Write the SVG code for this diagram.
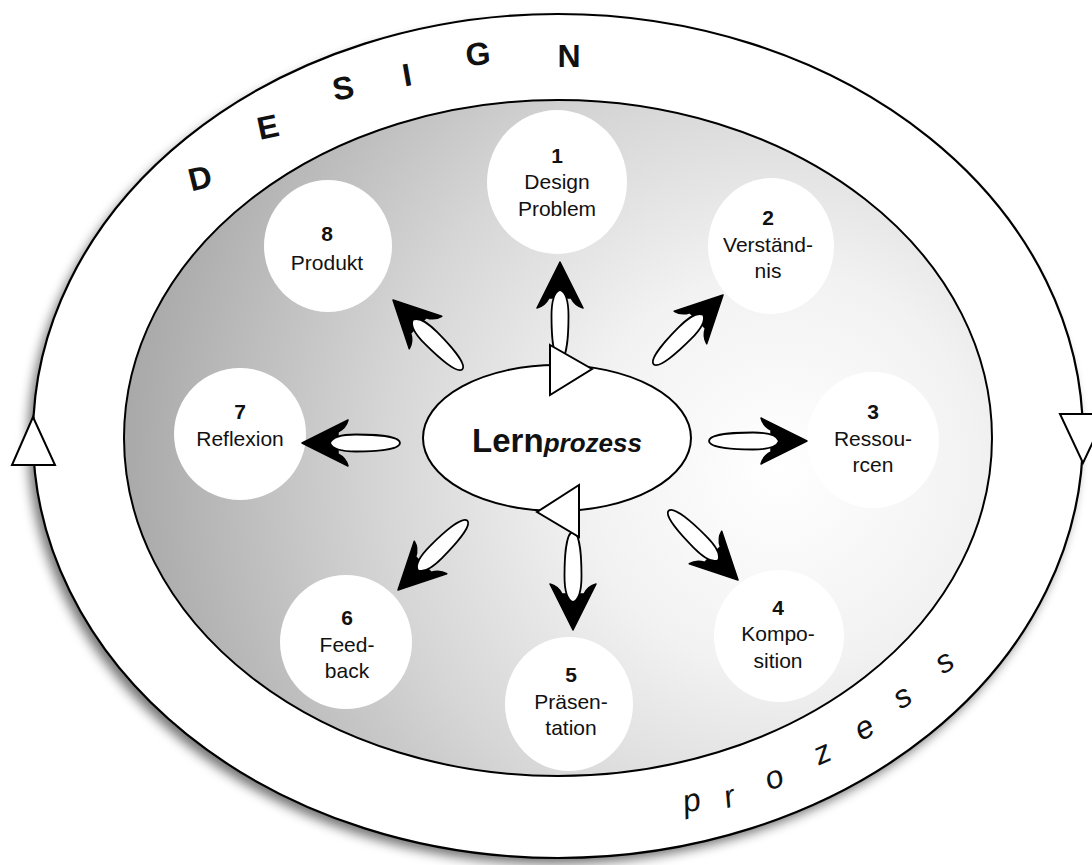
<svg xmlns="http://www.w3.org/2000/svg" width="1092" height="865" viewBox="0 0 1092 865">
<style>
  .ring { fill:#fff; stroke:#000; stroke-width:2.2; }
  .node { fill:#fff; }
  .lbl { font-family:"Liberation Sans", Arial, sans-serif; font-size:21px; fill:#111; text-anchor:middle; }
  .num { font-weight:bold; }
  .big { font-family:"Liberation Sans", Arial, sans-serif; font-size:32px; font-weight:bold; fill:#111; text-anchor:middle; }
  .ital { font-family:"Liberation Sans", Arial, sans-serif; font-size:32px; font-style:italic; fill:#111; text-anchor:middle; }
  .tri { fill:#fff; stroke:#000; stroke-width:2; stroke-linejoin:miter; }
  .shaft { fill:#fff; stroke:#000; stroke-width:1.8; }
  .head { fill:#000; stroke:#000; stroke-width:1.5; stroke-linejoin:round; }
</style>
<defs>
  <radialGradient id="bg" gradientUnits="userSpaceOnUse" cx="780" cy="470" r="660">
    <stop offset="0" stop-color="#ffffff"/>
    <stop offset="0.3" stop-color="#f2f2f2"/>
    <stop offset="0.6" stop-color="#d6d6d6"/>
    <stop offset="1" stop-color="#a8a8a8"/>
  </radialGradient>
  <filter id="blur" x="-10%" y="-10%" width="120%" height="120%">
    <feGaussianBlur stdDeviation="6"/>
  </filter>
  <g id="arrow">
    <path class="head" d="M0,0 L-46,-23 Q-44,-15 -36,-11 L-36,11 Q-44,15 -46,23 Z"/>
    <path class="shaft" d="M-98,0 C-98,-7 -72,-8.5 -54,-8.5 C-40,-8.5 -30,-6 -28,0 C-30,6 -40,8.5 -54,8.5 C-72,8.5 -98,7 -98,0 Z"/>
  </g>
</defs>

<g id="outer-ring">
  <ellipse cx="553" cy="443" rx="525" ry="421" fill="#000" opacity="0.55" filter="url(#blur)"/>
  <ellipse class="ring" cx="558" cy="436" rx="525" ry="422"/>
  <polygon class="tri" points="33,417 55,465 12,465"/>
  <polygon class="tri" points="1060,414 1106,414 1083,463"/>
</g>

<g id="design-text">
  <text class="big" x="200" y="189" transform="rotate(-14 200 178)">D</text>
  <text class="big" x="268" y="138" transform="rotate(-12 268 127)">E</text>
  <text class="big" x="343" y="99" transform="rotate(-10 343 88)">S</text>
  <text class="big" x="407" y="86" transform="rotate(-10 407 75)">I</text>
  <text class="big" x="478" y="65" transform="rotate(-5 478 54)">G</text>
  <text class="big" x="569" y="67">N</text>
</g>

<g id="prozess-text">
  <text class="ital" x="692" y="811" transform="rotate(-12 692 803)">p</text>
  <text class="ital" x="730" y="807" transform="rotate(-16 730 799)">r</text>
  <text class="ital" x="775" y="788" transform="rotate(-20 775 780)">o</text>
  <text class="ital" x="823" y="763" transform="rotate(-24 823 755)">z</text>
  <text class="ital" x="865" y="738" transform="rotate(-28 865 729)">e</text>
  <text class="ital" x="903" y="707" transform="rotate(-30 903 698)">s</text>
  <text class="ital" x="945" y="672" transform="rotate(-32 945 663)">s</text>
</g>

<g id="inner-area">
  <ellipse cx="558" cy="438" rx="434" ry="338" fill="url(#bg)" stroke="#000" stroke-width="2"/>
</g>

<g id="n1"><ellipse class="node" cx="557" cy="182" rx="70" ry="72"/>
  <text class="lbl num" x="557" y="163">1</text>
  <text class="lbl" x="557" y="189">Design</text>
  <text class="lbl" x="557" y="216">Problem</text></g>
<g id="n2"><ellipse class="node" cx="771" cy="246" rx="63" ry="68"/>
  <text class="lbl num" x="768" y="225">2</text>
  <text class="lbl" x="768" y="252">Verständ-</text>
  <text class="lbl" x="768" y="278">nis</text></g>
<g id="n3"><ellipse class="node" cx="873" cy="440" rx="66" ry="68"/>
  <text class="lbl num" x="873" y="419">3</text>
  <text class="lbl" x="873" y="446">Ressou-</text>
  <text class="lbl" x="873" y="472">rcen</text></g>
<g id="n4"><ellipse class="node" cx="779" cy="636" rx="65" ry="66"/>
  <text class="lbl num" x="778" y="615">4</text>
  <text class="lbl" x="778" y="641">Kompo-</text>
  <text class="lbl" x="778" y="668">sition</text></g>
<g id="n5"><ellipse class="node" cx="569" cy="704" rx="64" ry="67"/>
  <text class="lbl num" x="571" y="682">5</text>
  <text class="lbl" x="571" y="709">Präsen-</text>
  <text class="lbl" x="571" y="735">tation</text></g>
<g id="n6"><ellipse class="node" cx="346" cy="642" rx="66" ry="67"/>
  <text class="lbl num" x="347" y="625">6</text>
  <text class="lbl" x="347" y="652">Feed-</text>
  <text class="lbl" x="347" y="678">back</text></g>
<g id="n7"><ellipse class="node" cx="240" cy="434" rx="66" ry="66"/>
  <text class="lbl num" x="240" y="419">7</text>
  <text class="lbl" x="240" y="446">Reflexion</text></g>
<g id="n8"><ellipse class="node" cx="328" cy="246" rx="64" ry="66"/>
  <text class="lbl num" x="327" y="241">8</text>
  <text class="lbl" x="327" y="270">Produkt</text></g>

<g id="connectors">
  <use href="#arrow" transform="translate(560,262) rotate(-90)"/>
  <use href="#arrow" transform="translate(723,295) rotate(-45)"/>
  <use href="#arrow" transform="translate(807,441)"/>
  <use href="#arrow" transform="translate(738,580) rotate(45)"/>
  <use href="#arrow" transform="translate(573,630) rotate(90)"/>
  <use href="#arrow" transform="translate(398,590) rotate(135)"/>
  <use href="#arrow" transform="translate(302,443) rotate(180)"/>
  <use href="#arrow" transform="translate(393,300) rotate(-135)"/>
</g>

<g id="center">
  <ellipse cx="557" cy="438" rx="134" ry="73" fill="#fff" stroke="#000" stroke-width="2"/>
  <polygon class="tri" points="550,345 592,369 550,395"/>
  <polygon class="tri" points="579,485 579,537 537,512"/>
  <text x="557" y="452" font-family="'Liberation Sans', Arial, sans-serif" font-weight="bold" fill="#111" text-anchor="middle"><tspan font-size="33">Lern</tspan><tspan font-size="26" font-style="italic">prozess</tspan></text>
</g>
</svg>
